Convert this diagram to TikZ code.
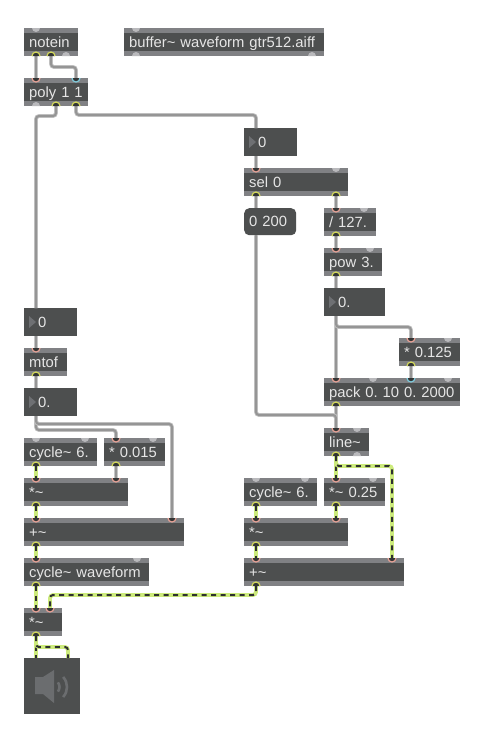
\documentclass[tikz,border=0pt]{standalone}
\usepackage{fontspec}
\setmainfont{Liberation Sans}
\frenchspacing
\definecolor{boxc}{HTML}{4D4F4F}
\definecolor{barc}{HTML}{808184}
\definecolor{offc}{HTML}{B9B9BC}
\definecolor{inc}{HTML}{E8A296}
\definecolor{outc}{HTML}{D2D85C}
\definecolor{bluec}{HTML}{7FCBDD}
\definecolor{darkc}{HTML}{333535}
\definecolor{txtc}{HTML}{E6E6E6}
\definecolor{tric}{HTML}{6E7073}
\definecolor{wireedge}{HTML}{C6C6C6}
\definecolor{wirec}{HTML}{959595}
\definecolor{sigedge}{HTML}{CDEB7C}
\definecolor{sigdark}{HTML}{2E3030}
\pgfdeclarelayer{front}
\pgfsetlayers{main,front}
\tikzset{
 boxstyle/.style={fill=boxc,draw=none,anchor=north west,inner sep=0pt,text=txtc,font=\fontsize{14.8}{16}\selectfont\frenchspacing,align=left},
 barstyle/.style={fill=barc,draw=none},
 wire/.style={draw=wirec,line width=2.2pt,rounded corners=3pt,preaction={draw=wireedge,line width=3.8pt}},
 sig/.style={draw=sigdark,line width=2pt,rounded corners=3pt,dash pattern=on 5pt off 4.5pt,preaction={draw=sigedge,line width=3.8pt,solid}},
 tricon/.style={fill=tric,draw=none},
 spk/.style={fill=tric!90!boxc,draw=none},
 spkarc/.style={draw=tric!90!boxc,line width=2.6pt}
}
% name x1 y1 x2 y2 text : object with bars
\newcommand\objbox[6]{%
 \node[boxstyle,minimum height=#5pt-#3pt,text width=#4pt-#2pt,text height=10.5pt,text depth=0.5pt] (#1) at (#2,#3) {\hspace*{5pt}\mbox{#6}};
 \fill[barstyle] (#2,#3) rectangle (#4,#3+5);
 \fill[barstyle] (#2,#5-5) rectangle (#4,#5);
}
% number box
\newcommand\numbox[6]{%
 \node[boxstyle,minimum height=#5pt-#3pt,text width=#4pt-#2pt,text height=10.5pt,text depth=0.5pt] (#1) at (#2,#3) {\hspace*{14pt}\mbox{#6}};
 \fill[tricon] (#2+5,#3+8) -- (#2+12,#3+14) -- (#2+5,#3+20) -- cycle;
}
\newcommand\off[3]{\fill[offc] (#1-4,#2) arc[start angle=180,end angle=#3,radius=4];}
% inlet/outlet ports: name x y colour
\newcommand\pinin[4]{\coordinate (#1) at (#2,#3);
 \begin{pgfonlayer}{front}
 \fill[darkc] (#2-4,#3) arc[start angle=180,end angle=0,radius=4] -- cycle;
 \draw[#4,line width=1.2pt] (#2-4,#3) arc[start angle=180,end angle=0,radius=4];
 \end{pgfonlayer}}
\newcommand\pinout[4]{\coordinate (#1) at (#2,#3);
 \begin{pgfonlayer}{front}
 \fill[darkc] (#2-4,#3) arc[start angle=180,end angle=360,radius=4] -- cycle;
 \draw[#4,line width=1.2pt] (#2-4,#3) arc[start angle=180,end angle=360,radius=4];
 \end{pgfonlayer}}
\newcommand\wirevia[4]{\draw[#1] (#2) -- (#2 |- 0,#4) -- (#3 |- 0,#4) -- (#3);}
\begin{document}
\begin{tikzpicture}[x=1pt,y=-1pt]
\useasboundingbox (0,0) rectangle (477,732);
\fill[white] (0,0) rectangle (477,732);
% objects
\objbox{notein}{24}{28}{78}{56}{notein}
\objbox{buffer}{124}{28}{324}{56}{buffer\textasciitilde{} waveform gtr512.aiff}
\objbox{poly}{24}{78}{88}{106}{poly 1 1}
\numbox{numa}{244}{128}{297}{156}{0}
\objbox{sel}{244}{168}{348}{196}{sel 0}
\node[boxstyle,rounded corners=5pt,minimum height=27pt,text width=52pt,text height=10.5pt,text depth=0.5pt] (msg) at (244,208) {\hspace*{5pt}0 200};
\objbox{div}{324}{208}{376}{236}{/ 127.}
\objbox{pow}{324}{248}{382}{276}{pow 3.}
\numbox{numb}{324}{288}{385}{316}{0.}
\objbox{mula}{399}{338}{460}{366}{* 0.125}
\objbox{pack}{324}{378}{460}{406}{pack 0. 10 0. 2000}
\objbox{line}{324}{428}{369}{456}{line\textasciitilde}
\numbox{numc}{24}{308}{77}{336}{0}
\objbox{mtof}{24}{348}{67}{376}{mtof}
\numbox{numd}{24}{388}{77}{416}{0.}
\objbox{cyca}{24}{438}{97}{466}{cycle\textasciitilde{} 6.}
\objbox{mulb}{104}{438}{165}{466}{* 0.015}
\objbox{sma}{24}{478}{128}{506}{*\textasciitilde}
\objbox{pla}{24}{518}{184}{546}{+\textasciitilde}
\objbox{cycw}{24}{558}{149}{586}{cycle\textasciitilde{} waveform}
\objbox{smc}{24}{608}{62}{636}{*\textasciitilde}
\objbox{cycb}{244}{478}{317}{506}{cycle\textasciitilde{} 6.}
\objbox{mulc}{324}{478}{385}{506}{*\textasciitilde{} 0.25}
\objbox{smb}{244}{518}{348}{546}{*\textasciitilde}
\objbox{plb}{244}{558}{404}{586}{+\textasciitilde}
% dac
\node[boxstyle,minimum width=56pt,minimum height=56pt] (dac) at (24,658) {};
\fill[spk] (35,677) -- (43,677) -- (54,670) -- (54,703) -- (43,694) -- (35,694) -- cycle;
\coordinate (spkc) at (52,687);
\draw[spkarc] (spkc) ++(-38:7.5) arc[start angle=-38,end angle=38,radius=7.5];
\draw[spkarc] (spkc) ++(-42:15) arc[start angle=-42,end angle=42,radius=15];
\coordinate (dac-a) at (36,658);
\coordinate (dac-b) at (68,658);
% inactive ports
\off{36}{28}{0}\off{136}{28}{0}\off{66}{56}{360}\off{136}{56}{360}\off{312}{56}{360}
\off{36}{106}{360}\off{336}{168}{0}\off{364}{208}{0}\off{370}{248}{0}\off{448}{338}{0}
\off{373}{378}{0}\off{448}{378}{0}\off{357}{428}{0}\off{357}{456}{360}
\off{36}{438}{0}\off{85}{438}{0}\off{153}{438}{0}\off{137}{558}{0}
\off{256}{478}{0}\off{305}{478}{0}\off{373}{478}{0}
% active ports
\pinout{notein-o1}{36}{56}{outc}\pinout{notein-o2}{51}{56}{outc}
\pinin{poly-i1}{36}{78}{inc}\pinin{poly-i2}{76}{78}{bluec}
\pinout{poly-o2}{56}{106}{outc}\pinout{poly-o3}{76}{106}{outc}
\coordinate (numa-i) at (256,128);\coordinate (numa-o) at (256,156);
\pinin{sel-i}{256}{168}{inc}\pinout{sel-o1}{256}{196}{outc}\pinout{sel-o2}{336}{196}{outc}
\coordinate (msg-i) at (256,208);\coordinate (msg-o) at (256,235);
\pinin{div-i}{336}{208}{inc}\pinout{div-o}{336}{236}{outc}
\pinin{pow-i}{336}{248}{inc}\pinout{pow-o}{336}{276}{outc}
\coordinate (numb-i) at (336,288);\coordinate (numb-o) at (336,316);
\pinin{mula-i}{411}{338}{inc}\pinout{mula-o}{411}{366}{outc}
\pinin{pack-i1}{336}{378}{inc}\pinin{pack-i3}{411}{378}{bluec}\pinout{pack-o}{336}{406}{outc}
\pinin{line-i}{336}{428}{inc}\pinout{line-o}{336}{456}{outc}
\coordinate (numc-i) at (36,308);\coordinate (numc-o) at (36,336);
\pinin{mtof-i}{36}{348}{inc}\pinout{mtof-o}{36}{376}{outc}
\coordinate (numd-i) at (36,388);\coordinate (numd-o) at (36,416);
\pinout{cyca-o}{36}{466}{outc}
\pinin{mulb-i}{116}{438}{inc}\pinout{mulb-o}{116}{466}{outc}
\pinin{sma-i1}{36}{478}{inc}\pinin{sma-i2}{116}{478}{inc}\pinout{sma-o}{36}{506}{outc}
\pinin{pla-i1}{36}{518}{inc}\pinin{pla-i2}{172}{518}{inc}\pinout{pla-o}{36}{546}{outc}
\pinin{cycw-i}{36}{558}{inc}\pinout{cycw-o}{36}{586}{outc}
\pinin{smc-i1}{36}{608}{inc}\pinin{smc-i2}{50}{608}{inc}\pinout{smc-o}{36}{636}{outc}
\pinout{cycb-o}{256}{506}{outc}
\pinin{mulc-i}{336}{478}{inc}\pinout{mulc-o}{336}{506}{outc}
\pinin{smb-i1}{256}{518}{inc}\pinin{smb-i2}{336}{518}{inc}\pinout{smb-o}{256}{546}{outc}
\pinin{plb-i1}{256}{558}{inc}\pinin{plb-i2}{392}{558}{inc}\pinout{plb-o}{256}{586}{outc}
% control wires
\draw[wire] (notein-o1) -- (poly-i1);
\wirevia{wire}{notein-o2}{poly-i2}{67}
\wirevia{wire}{poly-o2}{numc-i}{116}
\wirevia{wire}{poly-o3}{numa-i}{115}
\draw[wire] (numa-o) -- (sel-i);
\draw[wire] (sel-o1) -- (msg-i);
\draw[wire] (sel-o2) -- (div-i);
\draw[wire] (div-o) -- (pow-i);
\draw[wire] (pow-o) -- (numb-i);
\draw[wire] (numb-o) -- (pack-i1);
\wirevia{wire}{numb-o}{mula-i}{327}
\draw[wire] (mula-o) -- (pack-i3);
\draw[wire] (pack-o) -- (line-i);
\wirevia{wire}{msg-o}{line-i}{415}
\draw[wire] (numc-o) -- (mtof-i);
\draw[wire] (mtof-o) -- (numd-i);
\wirevia{wire}{numd-o}{mulb-i}{430}
\wirevia{wire}{numd-o}{pla-i2}{424}
\draw[wire] (mulb-o) -- (sma-i2);
% signal wires
\draw[sig] (cyca-o) -- (sma-i1);
\draw[sig] (sma-o) -- (pla-i1);
\draw[sig] (pla-o) -- (cycw-i);
\draw[sig] (cycw-o) -- (smc-i1);
\draw[sig] (smc-o) -- (dac-a);
\wirevia{sig}{smc-o}{dac-b}{647}
\draw[sig] (line-o) -- (mulc-i);
\wirevia{sig}{line-o}{plb-i2}{466}
\draw[sig] (cycb-o) -- (smb-i1);
\draw[sig] (mulc-o) -- (smb-i2);
\draw[sig] (smb-o) -- (plb-i1);
\wirevia{sig}{plb-o}{smc-i2}{595}
\end{tikzpicture}
\end{document}
